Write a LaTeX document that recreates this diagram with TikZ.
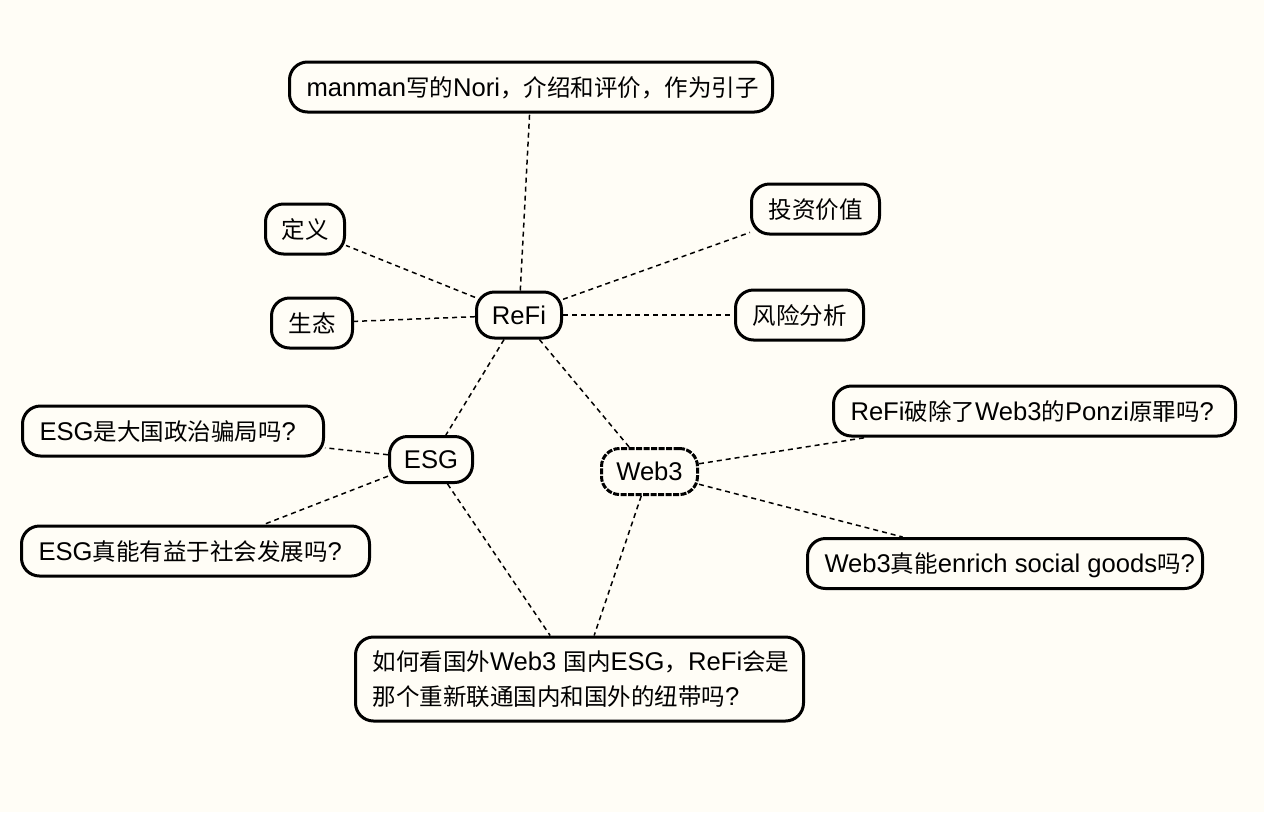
\documentclass[tikz,border=0pt]{standalone}
\usepackage{fontspec}
\setmainfont{Liberation Sans}[Scale=1.09]
\newfontfamily\cjk{Noto Sans CJK SC}
\newcommand\zh[1]{{\cjk #1}}
\newcommand\lb[2]{\makebox[#1pt][l]{#2}}
\newcommand\cb[2]{\makebox[#1pt][c]{#2}}
\definecolor{bg}{HTML}{FFFDF6}
\begin{document}
\begin{tikzpicture}[x=1pt,y=-1pt,
  box/.style={draw=black, line width=3pt, rounded corners=18pt, fill=bg,
    inner xsep=17pt, inner ysep=0pt, minimum height=50pt, anchor=west,
    text height=20pt, text depth=2pt, font=\fontsize{23.5}{35}\selectfont},
  small/.style={box, minimum height=46pt},
  dbox/.style={small, dash pattern=on 6pt off 1.5pt},
  link/.style={line width=1.5pt, dash pattern=on 5pt off 4pt}]
\fill[bg] (0,0) rectangle (1264,812);
\useasboundingbox (0,0) rectangle (1264,812);

\node[small] (refi) at (475,315) {\cb{51}{ReFi}};
\node[box] (nori) at (288,87) {\lb{449}{manman\zh{写的}Nori\zh{，介绍和评价，作为引子}}};
\node[box] (def) at (264,229) {\cb{45}{\zh{定义}}};
\node[box] (inv) at (750,209) {\cb{94}{\zh{投资价值}}};
\node[box] (eco) at (270,323) {\cb{47}{\zh{生态}}};
\node[box] (risk) at (734,315) {\cb{94}{\zh{风险分析}}};
\node[small] (esg) at (388,459.5) {\cb{49}{ESG}};
\node[dbox] (web3) at (600,471.5) {\cb{62}{Web3}};
\node[box] (esgq) at (21,431) {\lb{267}{ESG\zh{是大国政治骗局吗}?}};
\node[box] (esgg) at (20,551) {\lb{314}{ESG\zh{真能有益于社会发展吗}?}};
\node[box] (ponzi) at (832,411) {\lb{368}{ReFi\zh{破除了}Web3\zh{的}Ponzi\zh{原罪吗}?}};
\node[box] (enrich) at (806,563.5) {\lb{361}{Web3\zh{真能}enrich social goods\zh{吗}?}};
\node[box, text height=, text depth=, minimum height=84pt, align=left] (link) at (354,679)
  {\lb{414}{\zh{如何看国外}Web3 \zh{国内}ESG\zh{，}ReFi\zh{会是}}\\
   \lb{414}{\zh{那个重新联通国内和国外的纽带吗}?}};

\draw[link] (refi) -- (nori);
\draw[link] (refi) -- (def);
\draw[link] (refi) -- (inv);
\draw[link] (refi) -- (eco);
\draw[link] (refi) -- (risk);
\draw[link] (refi) -- (esg);
\draw[link] (refi) -- (web3);
\draw[link] (esg) -- (esgq);
\draw[link] (esg) -- (esgg);
\draw[link] (esg) -- (link);
\draw[link] (web3) -- (link);
\draw[link] (web3) -- (ponzi);
\draw[link] (web3) -- (enrich);
\end{tikzpicture}
\end{document}
